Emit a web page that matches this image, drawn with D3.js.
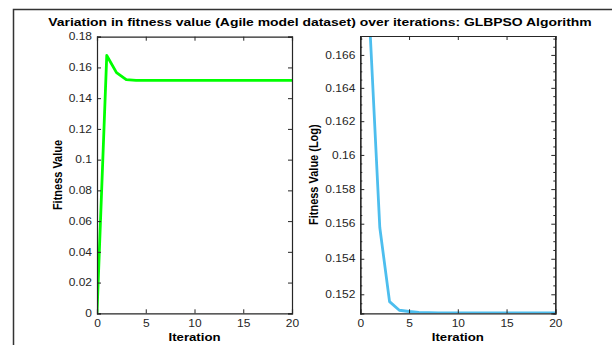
<!DOCTYPE html>
<meta charset="utf-8">
<script src="https://cdn.jsdelivr.net/npm/d3@7"></script>
<style>
  body { margin: 0; background: #fff; }
  text { font-family: "Liberation Sans", Arial, sans-serif; fill: #262626; }
  .title { font-weight: bold; font-size: 11.6px; fill: #000; }
  .label { font-weight: bold; font-size: 11px; fill: #000; }
</style>
<body>
<script>
  // data
  var iterations = [0, 1, 2, 3, 4, 5, 6, 7, 8, 9, 10, 11, 12, 13, 14, 15, 16, 17, 18, 19, 20];
  var fitness = [0, 0.1678, 0.1566, 0.1520, 0.1516, 0.1516, 0.1516, 0.1516, 0.1516, 0.1516, 0.1516,
    0.1516, 0.1516, 0.1516, 0.1516, 0.1516, 0.1516, 0.1516, 0.1516, 0.1516, 0.1516];
  var logIterations = [1, 2, 3, 4, 5, 6, 7, 8, 9, 10, 11, 12, 13, 14, 15, 16, 17, 18, 19, 20];
  var fitnessLog = [0.1675, 0.15578, 0.15159, 0.15111, 0.15104, 0.15099, 0.15097, 0.15096, 0.15096, 0.15096,
    0.15096, 0.15096, 0.15096, 0.15096, 0.15096, 0.15096, 0.15096, 0.15096, 0.15096, 0.15096];
  var xTicks = [0, 5, 10, 15, 20];
  var yTicksLeft = [0, 0.02, 0.04, 0.06, 0.08, 0.1, 0.12, 0.14, 0.16, 0.18];
  var yTicksRight = [0.152, 0.154, 0.156, 0.158, 0.16, 0.162, 0.164, 0.166];
  var yMinorRight = [0.1515, 0.1525, 0.153, 0.1535, 0.1545, 0.155, 0.1555, 0.1565, 0.157, 0.1575,
    0.1585, 0.159, 0.1595, 0.1605, 0.161, 0.1615, 0.1625, 0.163, 0.1635, 0.1645, 0.165, 0.1655, 0.1665, 0.167];

  var width = 612, height = 345;
  var sx = 1.2; // the figure text is a little stretched sideways

  var svg = d3.select("body").append("svg")
    .attr("width", width)
    .attr("height", height);

  // figure frame (only top and left edges show)
  svg.append("path")
    .attr("d", "M13.5,345V9.5H612")
    .attr("fill", "none")
    .attr("stroke", "#333")
    .attr("stroke-width", 1.5);

  svg.append("text")
    .attr("class", "title")
    .attr("transform", "translate(320,25.5) scale(" + sx + ",1)")
    .attr("text-anchor", "middle")
    .text("Variation in fitness value (Agile model dataset) over iterations: GLBPSO Algorithm");

  // widen axis tick labels without moving their anchor
  function stretch(sel) {
    sel.selectAll(".tick text").each(function () {
      var t = d3.select(this);
      var x = +t.attr("x") || 0;
      t.attr("x", x / sx).attr("transform", "scale(" + sx + ",1)");
    });
  }

  function drawPanel(opt) {
    var g = svg.append("g");
    var x = opt.x, y = opt.y;
    var x0 = x.range()[0], x1 = x.range()[1];
    var y0 = y.range()[0], y1 = y.range()[1];

    var clipId = "clip" + opt.id;
    svg.append("clipPath").attr("id", clipId)
      .append("rect")
      .attr("x", x0).attr("y", y1)
      .attr("width", x1 - x0).attr("height", y0 - y1);

    g.append("path")
      .datum(opt.xs.map(function (d, i) { return [d, opt.ys[i]]; }))
      .attr("clip-path", "url(#" + clipId + ")")
      .attr("fill", "none")
      .attr("stroke", opt.color)
      .attr("stroke-width", 2.8)
      .attr("stroke-linejoin", "round")
      .attr("d", d3.line().x(function (d) { return x(d[0]); }).y(function (d) { return y(d[1]); }));

    // box axes, ticks pointing in
    var bottom = g.append("g").attr("transform", "translate(0," + y0 + ")")
      .call(d3.axisBottom(x).tickValues(xTicks).tickSize(-4).tickPadding(7).tickFormat(d3.format("d")));
    g.append("g").attr("transform", "translate(0," + y1 + ")")
      .call(d3.axisTop(x).tickValues(xTicks).tickSize(-4).tickFormat(""));
    var left = g.append("g").attr("transform", "translate(" + x0 + ",0)")
      .call(d3.axisLeft(y).tickValues(opt.yTicks).tickSize(-4).tickPadding(5).tickFormat(opt.fmt));
    g.append("g").attr("transform", "translate(" + x1 + ",0)")
      .call(d3.axisRight(y).tickValues(opt.yTicks).tickSize(-4).tickFormat(""));

    if (opt.minor) {
      g.append("g").attr("transform", "translate(" + x0 + ",0)")
        .call(d3.axisLeft(y).tickValues(opt.minor).tickSize(-2).tickFormat(""));
      g.append("g").attr("transform", "translate(" + x1 + ",0)")
        .call(d3.axisRight(y).tickValues(opt.minor).tickSize(-2).tickFormat(""));
    }

    g.selectAll(".domain").attr("stroke", "#262626").attr("stroke-width", 1.2);
    g.selectAll(".tick line").attr("stroke", "#262626");
    g.selectAll(".tick text").attr("fill", "#262626").style("font-size", "10px")
      .style("font-family", "'Liberation Sans', Arial, sans-serif");
    stretch(bottom);
    stretch(left);

    g.append("text")
      .attr("class", "label")
      .attr("transform", "translate(" + ((x0 + x1) / 2) + ",340.5) scale(" + sx + ",1)")
      .attr("text-anchor", "middle")
      .text("Iteration");

    g.append("text")
      .attr("class", "label")
      .attr("transform", "translate(" + opt.labelX + "," + ((y0 + y1) / 2) + ") scale(" + sx + ",1) rotate(-90)")
      .attr("text-anchor", "middle")
      .text(opt.ylabel);
  }

  drawPanel({
    id: 1,
    x: d3.scaleLinear().domain([0, 20]).range([97, 292]),
    y: d3.scaleLinear().domain([0, 0.18]).range([313.3, 36.7]),
    xs: iterations,
    ys: fitness,
    yTicks: yTicksLeft,
    fmt: function (d) { return d === 0 ? "0" : String(+d.toFixed(2)); },
    color: "#00ff00",
    ylabel: "Fitness Value",
    labelX: 62
  });

  drawPanel({
    id: 2,
    x: d3.scaleLinear().domain([0, 20]).range([360.3, 555.3]),
    y: d3.scaleLog().domain([0.15094, 0.16716]).range([313.3, 36]),
    xs: logIterations,
    ys: fitnessLog,
    yTicks: yTicksRight,
    minor: yMinorRight,
    fmt: function (d) { return String(+d.toFixed(3)); },
    color: "#4dbeee",
    ylabel: "Fitness Value (Log)",
    labelX: 318
  });
</script>
</body>
</html>
